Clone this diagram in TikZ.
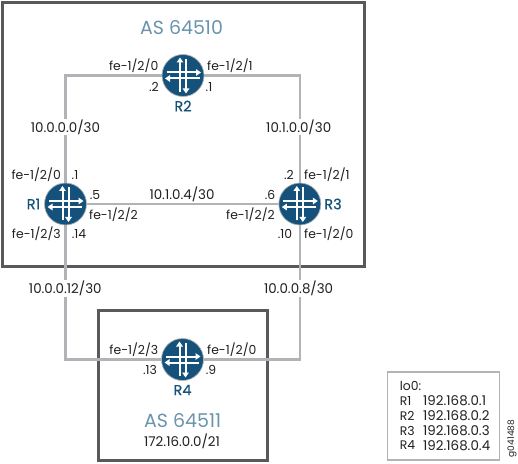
\documentclass[tikz,border=0pt]{standalone}
\usepackage{fontspec}
\setmainfont{Poppins}
\definecolor{boxgray}{HTML}{58595B}
\definecolor{linegray}{HTML}{B1B3B6}
\definecolor{routerblue}{HTML}{15527B}
\definecolor{asblue}{HTML}{6A94AE}
\definecolor{txt}{HTML}{231F20}
\usetikzlibrary{arrows.meta}
\tikzset{
 x=1bp,y=-1bp,
 asbox/.style={draw=boxgray,line width=3bp,fill=none},
 linkline/.style={draw=linegray,line width=2.5bp},
 lbl/.style={font=\fontsize{12.4bp}{14bp}\selectfont,text=txt,inner sep=0pt},
 numlbl/.style={lbl,font=\fontsize{13.4bp}{15bp}\selectfont},
 netlbl/.style={numlbl,fill=white,inner xsep=1pt,inner ysep=1pt},
 rname/.style={font=\fontsize{14.5bp}{16bp}\selectfont\addfontfeatures{FakeBold=0.6},text=routerblue,inner sep=0pt},
 astitle/.style={font=\fontsize{19bp}{22bp}\selectfont,text=asblue,inner sep=0pt},
 routerdisc/.style={circle,fill=routerblue,draw=linegray,line width=.7bp,minimum size=42bp,inner sep=0pt},
 arr/.style={draw=white,line width=2bp,-{Triangle[length=5bp,width=6.5bp]}},
}
\newcommand{\routerarrows}[1]{%
 \begin{scope}[shift={(#1)}]
  \draw[arr] (-3,16.5) -- (-3,-18);
  \draw[arr] (3,-16.5) -- (3,18);
  \draw[arr] (-16.5,-3) -- (18,-3);
  \draw[arr] (16.5,3) -- (-18,3);
 \end{scope}
}
\begin{document}
\begin{tikzpicture}
\useasboundingbox (0,0) rectangle (518,464);
% AS boxes
\draw[asbox] (2.5,3) rectangle (364.5,266.5);
\draw[asbox] (98.5,310.5) rectangle (267.5,460.5);
% routers
\node[routerdisc] (R1) at (65.5,204) {};
\node[routerdisc] (R2) at (183,75.5) {};
\node[routerdisc] (R3) at (299.8,204) {};
\node[routerdisc] (R4) at (182.5,359.5) {};
% links
\coordinate (c12) at (65.5,75.5);
\coordinate (c23) at (299.8,75.5);
\coordinate (c14) at (65.5,359.5);
\coordinate (c34) at (299.8,359.5);
\draw[linkline] (R1) -- (c12) -- (R2);
\draw[linkline] (R2) -- (c23) -- (R3);
\draw[linkline] (R1) -- (R3);
\draw[linkline] (R1) -- (c14) -- (R4);
\draw[linkline] (R3) -- (c34) -- (R4);
\routerarrows{R1}\routerarrows{R2}\routerarrows{R3}\routerarrows{R4}
% network labels
\node[netlbl] at (65.5,127) {10.0.0.0/30};
\node[netlbl] at (298.7,127) {10.1.0.0/30};
\node[numlbl] at (182,194.5) {10.1.0.4/30};
\node[netlbl] at (65.3,288.7) {10.0.0.12/30};
\node[netlbl] at (298.6,288.7) {10.0.0.8/30};
% titles
\node[astitle] at (181.5,28) {AS 64510};
\node[astitle] at (182.7,421) {AS 64511};
\node[numlbl] at (182,441.7) {172.16.0.0/21};
\node[rname] at (183,106) {R2};
\node[rname] at (33.5,204) {R1};
\node[rname] at (333,204) {R3};
\node[rname] at (182.5,390) {R4};
% interface labels
\node[lbl,anchor=east] at (158.5,66) {fe-1/2/0};
\node[lbl,anchor=west] at (207,66) {fe-1/2/1};
\node[lbl] at (154,87) {.2};
\node[lbl] at (209,87) {.1};
\node[lbl,anchor=east] at (61,175) {fe-1/2/0};
\node[lbl] at (75,175) {.1};
\node[lbl] at (95,195) {.5};
\node[lbl,anchor=west] at (89,215) {fe-1/2/2};
\node[lbl,anchor=east] at (61,234) {fe-1/2/3};
\node[lbl] at (79,234) {.14};
\node[lbl] at (270,195) {.6};
\node[lbl,anchor=east] at (275,215) {fe-1/2/2};
\node[lbl] at (289,175) {.2};
\node[lbl,anchor=west] at (304,175) {fe-1/2/1};
\node[lbl] at (285,234) {.10};
\node[lbl,anchor=west] at (304,234) {fe-1/2/0};
\node[lbl,anchor=east] at (158.5,350) {fe-1/2/3};
\node[lbl,anchor=west] at (207,350) {fe-1/2/0};
\node[lbl] at (150,370) {.13};
\node[lbl] at (211,370) {.9};
% legend
\node[draw=linegray,line width=1.5bp,minimum width=112bp,minimum height=88bp,inner sep=0pt] (legend) at (443.5,416) {};
\node[lbl,anchor=west] at (399.7,386) {lo0:};
\node[lbl,anchor=west] at (399.7,401) {R1};
\node[numlbl,anchor=west] at (423,401) {192.168.0.1};
\node[lbl,anchor=west] at (399.7,415.5) {R2};
\node[numlbl,anchor=west] at (423,415.5) {192.168.0.2};
\node[lbl,anchor=west] at (399.7,431) {R3};
\node[numlbl,anchor=west] at (423,431) {192.168.0.3};
\node[lbl,anchor=west] at (399.7,445.5) {R4};
\node[numlbl,anchor=west] at (423,445.5) {192.168.0.4};
\node[lbl,font=\fontsize{9bp}{10bp}\selectfont,rotate=90] at (512,438.5) {g041488};
\end{tikzpicture}
\end{document}
